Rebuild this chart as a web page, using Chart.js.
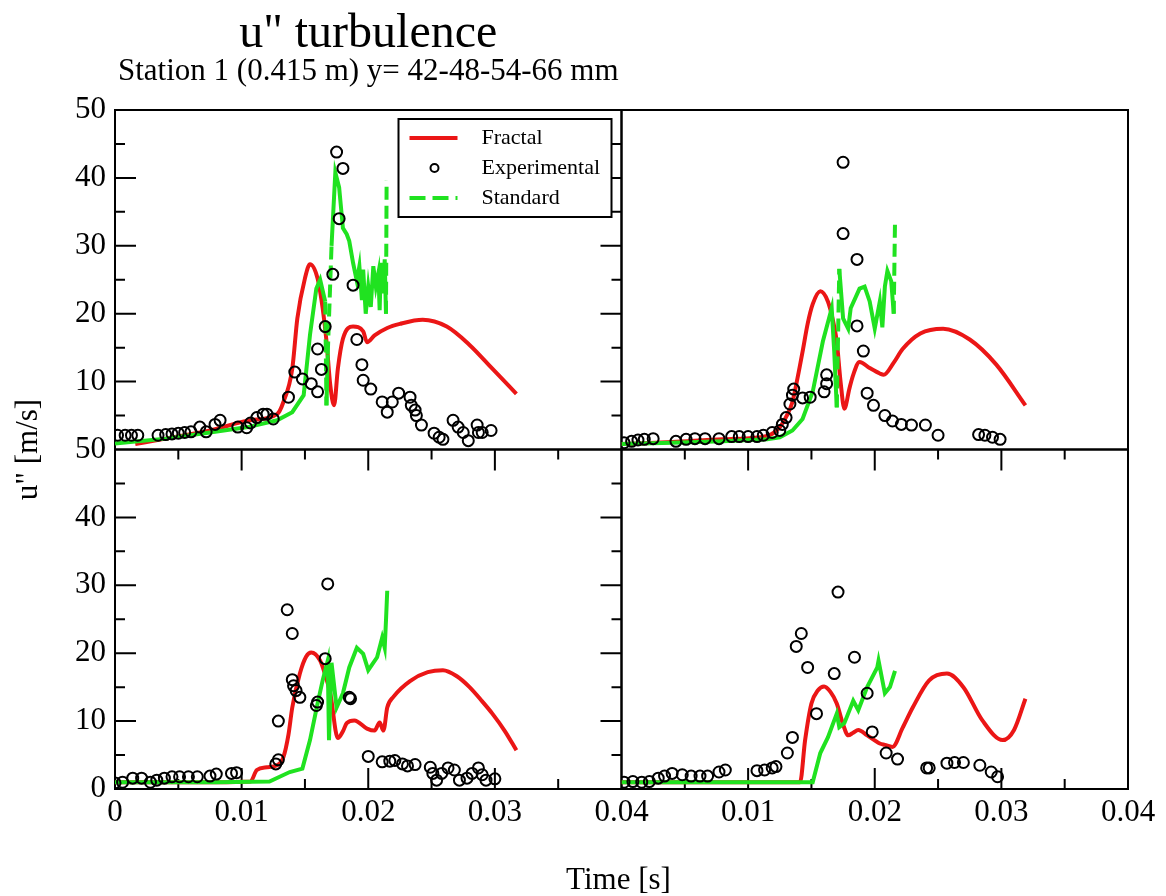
<!DOCTYPE html>
<html>
<head>
<meta charset="utf-8">
<script src="https://cdn.jsdelivr.net/npm/chart.js@4.4.0/dist/chart.umd.min.js"></script>
<style>
html,body{margin:0;padding:0;background:#fff;}
canvas{display:block;}
</style>
</head>
<body>
<canvas id="c" width="1166" height="896"></canvas>
<script>
// ---------- tick values ----------
const xTickVals = [0, 0.01, 0.02, 0.03, 0.04];
const yTickVals = [0, 10, 20, 30, 40, 50];
const xMinorVals = [0.005, 0.015, 0.025, 0.035];
const yMinorVals = [5, 15, 25, 35, 45];

// ---------- top-left panel (y = 42 mm) ----------
const tlFrac = [[0.0016,0.8],[0.004,1.6],[0.0075,2.8],[0.0107,4.3],[0.0128,5.2],[0.0133,7],[0.014,11.9],[0.0144,19.3],[0.015,25.2],[0.0154,27.3],[0.016,25.2],[0.0164,20.8],[0.0167,16],[0.017,9.5],[0.0173,6.5],[0.0176,11.9],[0.018,16.3],[0.0188,18.1],[0.0196,17.4],[0.0199,15.8],[0.0205,16.8],[0.0215,17.9],[0.0225,18.5],[0.0243,19.1],[0.0262,18.1],[0.028,15.4],[0.0298,11.9],[0.0317,8.2]];
const tlStd = [[0,0.9],[0.004,1.6],[0.0075,2.5],[0.0105,3.3],[0.0128,4.3],[0.014,5.5],[0.0149,8],[0.0154,16.9],[0.0159,23.7],[0.0162,25],[0.0166,21.8],[0.0167,6.5],[0.0168,14],[0.0171,30],[0.0174,40.8],[0.0177,38.6],[0.018,32.6],[0.0183,31.7],[0.0185,30.7],[0.0188,27.5],[0.0191,24.8],[0.0193,27],[0.0195,22],[0.0196,26.5],[0.0198,20],[0.02,24],[0.0202,21],[0.0204,27],[0.0206,24],[0.0208,26],[0.0209,20.5],[0.021,27.5],[0.0212,23],[0.0213,28],[0.0214,20],[0.02145,39.6]];
const tlExp = [[0.0002,2.1],[0.0008,2.1],[0.0013,2.1],[0.0018,2.1],[0.0034,2.1],[0.004,2.2],[0.0045,2.3],[0.005,2.4],[0.0055,2.5],[0.006,2.6],[0.0067,3.3],[0.0072,2.6],[0.0079,3.7],[0.0083,4.3],[0.0097,3.3],[0.0104,3.2],[0.0107,3.9],[0.0112,4.7],[0.0117,5.2],[0.012,5.2],[0.0125,4.5],[0.0137,7.7],[0.0142,11.4],[0.0148,10.4],[0.0155,9.7],[0.016,8.5],[0.016,14.8],[0.0163,11.8],[0.0166,18.1],[0.0172,25.8],[0.0175,43.8],[0.0177,34],[0.018,41.4],[0.0188,24.2],[0.0191,16.2],[0.0195,12.5],[0.0196,10.2],[0.0202,8.9],[0.0211,7.0],[0.0215,5.5],[0.0219,7.0],[0.0224,8.3],[0.0233,7.7],[0.0234,6.5],[0.0237,5.8],[0.0238,5.0],[0.0242,3.6],[0.0252,2.4],[0.0256,1.8],[0.0259,1.5],[0.0267,4.3],[0.0271,3.3],[0.0275,2.5],[0.0279,1.3],[0.0286,3.6],[0.0287,2.5],[0.029,2.5],[0.0297,2.8]];

// ---------- top-right panel (y = 48 mm) ----------
const trFrac = [[0,0.8],[0.004,1.1],[0.008,1.5],[0.0115,2],[0.0125,3.3],[0.013,4.8],[0.0135,7],[0.0139,10.5],[0.0143,14.4],[0.0147,18.5],[0.0151,21.4],[0.0157,23.3],[0.0163,21.8],[0.0167,19],[0.017,15.9],[0.0173,10],[0.0176,6],[0.018,9],[0.0183,11],[0.0188,12.9],[0.0196,12],[0.0204,11.2],[0.0207,11],[0.0215,12.8],[0.0222,14.8],[0.0236,17.1],[0.0254,17.8],[0.0275,16.2],[0.0296,12.5],[0.0319,6.5]];
const trStd = [[0,0.8],[0.004,1],[0.008,1.2],[0.0115,1.5],[0.0125,1.8],[0.0135,2.8],[0.0143,4.5],[0.0151,8.5],[0.0159,15.9],[0.0166,20.8],[0.0168,14.4],[0.017,6.2],[0.0172,26.6],[0.0175,19.3],[0.0179,17.8],[0.0181,20.8],[0.0188,23.7],[0.0192,24],[0.0196,21.8],[0.02,17.8],[0.0204,21.8],[0.0206,18],[0.0208,24],[0.021,26.3],[0.0213,24.8],[0.0215,20],[0.0216,33.7]];
const trExp = [[0.0002,1.0],[0.0008,1.2],[0.0013,1.4],[0.0018,1.5],[0.0025,1.6],[0.0043,1.2],[0.0051,1.5],[0.0058,1.6],[0.0066,1.6],[0.0077,1.6],[0.0087,1.9],[0.0093,1.9],[0.01,1.9],[0.0107,1.9],[0.0112,2.1],[0.0119,2.5],[0.0125,2.8],[0.0127,3.7],[0.013,4.7],[0.0133,6.7],[0.0135,8.0],[0.0136,8.9],[0.0143,7.6],[0.0149,7.7],[0.016,8.5],[0.0162,9.7],[0.0162,11],[0.0175,31.8],[0.0175,42.3],[0.0186,28],[0.0186,18.2],[0.0191,14.5],[0.0194,8.3],[0.0199,6.5],[0.0208,5.0],[0.0214,4.2],[0.0221,3.7],[0.0229,3.6],[0.024,3.6],[0.025,2.1],[0.0282,2.2],[0.0287,2.1],[0.0293,1.8],[0.0299,1.5]];

// ---------- bottom-left panel (y = 54 mm) ----------
const blFrac = [[0,1],[0.004,1],[0.008,1],[0.0107,1.1],[0.0112,2.8],[0.012,3.2],[0.0128,3.5],[0.0133,4.7],[0.0137,8],[0.014,12],[0.0146,17],[0.0151,19.5],[0.0155,20.1],[0.0162,18.9],[0.0166,16.8],[0.017,14.1],[0.0176,7.5],[0.018,8.5],[0.0183,9.7],[0.0189,10.1],[0.0199,8.9],[0.0205,8.6],[0.0209,9.8],[0.0212,8.6],[0.0215,12],[0.022,13.6],[0.0233,15.9],[0.0247,17.2],[0.0259,17.5],[0.027,16.6],[0.028,15],[0.029,12.9],[0.0298,11.1],[0.0308,8.5],[0.0317,5.7]];
const blStd = [[0,1],[0.004,1],[0.008,1],[0.0122,1.1],[0.0138,2.5],[0.0148,3.0],[0.0154,7.2],[0.016,12.6],[0.0164,16],[0.0168,18.9],[0.0169,7.2],[0.0171,18.6],[0.0175,12],[0.018,14.1],[0.0185,17.9],[0.0191,20.8],[0.0196,19.9],[0.02,17.5],[0.0207,19.4],[0.0211,22.3],[0.0213,20.8],[0.0214,24.8],[0.0215,29.2]];
const blExp = [[0,0.9],[0.0006,1.0],[0.0014,1.6],[0.0021,1.6],[0.0028,1.0],[0.0033,1.3],[0.0039,1.6],[0.0045,1.8],[0.0051,1.8],[0.0058,1.8],[0.0065,1.8],[0.0075,1.9],[0.008,2.2],[0.0092,2.3],[0.0096,2.4],[0.0127,3.7],[0.0129,4.3],[0.0129,10],[0.0136,26.4],[0.014,22.9],[0.014,16.1],[0.0141,15.2],[0.0143,14.5],[0.0146,13.5],[0.0159,12.3],[0.016,12.8],[0.0166,19.2],[0.0168,30.2],[0.0185,13.5],[0.0186,13.3],[0.02,4.8],[0.0211,4.0],[0.0217,4.1],[0.0221,4.2],[0.0227,3.7],[0.0231,3.4],[0.0237,3.6],[0.0249,3.2],[0.0251,2.3],[0.0254,1.3],[0.0258,2.3],[0.0263,3.1],[0.0268,2.8],[0.0272,1.3],[0.0278,1.6],[0.0282,2.3],[0.0287,3.1],[0.029,2.1],[0.0293,1.3],[0.03,1.5]];

// ---------- bottom-right panel (y = 66 mm) ----------
const brFrac = [[0,1],[0.004,1],[0.008,1],[0.012,1],[0.0141,1],[0.0145,7.2],[0.015,12.6],[0.0155,14.5],[0.016,15.1],[0.0165,14.3],[0.017,12.6],[0.0175,9.5],[0.0179,7.9],[0.0183,8.3],[0.0187,8.7],[0.0194,7.9],[0.0204,6.7],[0.0208,6.5],[0.0214,6.2],[0.0222,9],[0.023,12],[0.0243,16],[0.0257,17],[0.027,15],[0.0285,10.1],[0.0301,7.2],[0.031,8.7],[0.0319,13.3]];
const brStd = [[0,1],[0.004,1],[0.008,1],[0.012,1],[0.0151,1],[0.0157,5.3],[0.0163,7.6],[0.017,11.1],[0.0172,9.1],[0.0176,9.7],[0.0183,13],[0.0187,11.6],[0.0194,15],[0.0202,17.9],[0.0203,18.9],[0.0208,14.1],[0.0212,15],[0.0216,17.4]];
const brExp = [[0.0002,1.0],[0.0009,1.1],[0.0016,1.0],[0.0022,1.1],[0.0029,1.6],[0.0034,1.9],[0.004,2.3],[0.0048,2.1],[0.0055,1.9],[0.0062,1.9],[0.0068,1.9],[0.0077,2.5],[0.0082,2.8],[0.0107,2.7],[0.0113,2.8],[0.0119,3.1],[0.0122,3.3],[0.0131,5.3],[0.0135,7.6],[0.0138,21],[0.0142,22.9],[0.0147,17.9],[0.0154,11.1],[0.0168,17],[0.0171,29],[0.0184,19.4],[0.0194,14.1],[0.0198,8.4],[0.0209,5.3],[0.0218,4.4],[0.0241,3.1],[0.0243,3.1],[0.0257,3.8],[0.0263,3.9],[0.027,3.9],[0.0283,3.5],[0.0292,2.5],[0.0297,1.8]];

// ---------- styling ----------
const RED = 'rgb(235,22,22)';
const GREEN = 'rgb(32,226,32)';
const FONT = "'Liberation Serif', 'Times New Roman', serif";

const pts = arr => arr.map(p => ({x: p[0], y: p[1]}));

function fracDS(data, xa, ya) {
  return {label: 'Fractal', data: pts(data), xAxisID: xa, yAxisID: ya, showLine: true,
    borderColor: RED, borderWidth: 4, pointRadius: 0, pointHoverRadius: 0,
    cubicInterpolationMode: 'monotone', fill: false, order: 3};
}
function stdDS(data, xa, ya) {
  return {label: 'Standard', data: pts(data), xAxisID: xa, yAxisID: ya, showLine: true,
    borderColor: GREEN, borderWidth: 4, pointRadius: 0, pointHoverRadius: 0,
    tension: 0, fill: false, order: 2,
    segment: {borderDash: ctx => (Math.abs(ctx.p1.y - ctx.p0.y) > 80 && Math.abs(ctx.p1.x - ctx.p0.x) < 6) ? [13, 6] : undefined}};
}
function expDS(data, xa, ya) {
  return {label: 'Experimental', data: pts(data), xAxisID: xa, yAxisID: ya, showLine: false,
    borderColor: '#000', backgroundColor: 'rgba(0,0,0,0)', borderWidth: 2,
    pointRadius: 5.5, pointHoverRadius: 5.5, pointStyle: 'circle', order: 1};
}

const datasets = [
  fracDS(tlFrac,'xL','yT'), stdDS(tlStd,'xL','yT'), expDS(tlExp,'xL','yT'),
  fracDS(trFrac,'xR','yT'), stdDS(trStd,'xR','yT'), expDS(trExp,'xR','yT'),
  fracDS(blFrac,'xL','yB'), stdDS(blStd,'xL','yB'), expDS(blExp,'xL','yB'),
  fracDS(brFrac,'xR','yB'), stdDS(brStd,'xR','yB'), expDS(brExp,'xR','yB')
];

function xScale(hideZero) {
  return {
    type: 'linear', position: 'bottom', stack: 'x', stackWeight: 1,
    min: 0, max: 0.04,
    grid: {display: false, drawTicks: false}, border: {display: false},
    afterBuildTicks: s => { s.ticks = xTickVals.map(v => ({value: v})); },
    afterFit: s => { s.height = 107; },
    ticks: {
      autoSkip: false, maxRotation: 0, padding: 5, color: '#000',
      font: {family: FONT, size: 31},
      callback: v => (v === 0 ? (hideZero ? '' : '0') : Number(v).toFixed(2))
    }
  };
}
function yScale(hideZero) {
  return {
    type: 'linear', position: 'left', stack: 'y', stackWeight: 1,
    min: 0, max: 50,
    grid: {display: false, drawTicks: false}, border: {display: false},
    afterBuildTicks: s => { s.ticks = yTickVals.map(v => ({value: v})); },
    afterFit: s => { s.width = 115; },
    ticks: {
      autoSkip: false, padding: 9, color: '#000',
      font: {family: FONT, size: 31},
      callback: v => (v === 0 && hideZero ? '' : String(v))
    }
  };
}

const panels = [
  {x: 'xL', y: 'yT', yt: true,  xt: false},
  {x: 'xR', y: 'yT', yt: false, xt: false},
  {x: 'xL', y: 'yB', yt: true,  xt: true},
  {x: 'xR', y: 'yB', yt: false, xt: true}
];

const decor = {
  id: 'decor',
  beforeDatasetsDraw(chart) {
    const ctx = chart.ctx, S = chart.scales;
    ctx.save();
    ctx.strokeStyle = '#000';
    ctx.lineWidth = 2;
    const MAJ = 21, MIN = 10;
    panels.forEach(p => {
      const xs = S[p.x], ys = S[p.y];
      const l = xs.left, r = xs.right, t = ys.top, b = ys.bottom;
      ctx.strokeRect(l, t, r - l, b - t);
      ctx.beginPath();
      if (p.yt) {
        yTickVals.slice(1, -1).forEach(v => { const y = ys.getPixelForValue(v);
          ctx.moveTo(l, y); ctx.lineTo(l + MAJ, y); ctx.moveTo(r, y); ctx.lineTo(r - MAJ, y); });
        yMinorVals.forEach(v => { const y = ys.getPixelForValue(v);
          ctx.moveTo(l, y); ctx.lineTo(l + MIN, y); ctx.moveTo(r, y); ctx.lineTo(r - MIN, y); });
      }
      if (p.xt) {
        xTickVals.slice(1, -1).forEach(v => { const x = xs.getPixelForValue(v);
          ctx.moveTo(x, t); ctx.lineTo(x, t + MAJ); ctx.moveTo(x, b); ctx.lineTo(x, b - MAJ); });
        xMinorVals.forEach(v => { const x = xs.getPixelForValue(v);
          ctx.moveTo(x, t); ctx.lineTo(x, t + MIN); ctx.moveTo(x, b); ctx.lineTo(x, b - MIN); });
      }
      ctx.stroke();
    });
    ctx.restore();
  },
  afterDatasetsDraw(chart) {
    // legend inside the top-left panel
    const ctx = chart.ctx, S = chart.scales;
    const r = S.xL.right - 10, t = S.yT.top + 9;
    const w = 213, h = 98, l = r - w;
    ctx.save();
    ctx.fillStyle = '#fff';
    ctx.fillRect(l, t, w, h);
    ctx.strokeStyle = '#000'; ctx.lineWidth = 2;
    ctx.strokeRect(l, t, w, h);
    const rows = [t + 19, t + 49, t + 79];
    ctx.lineWidth = 4; ctx.strokeStyle = RED;
    ctx.beginPath(); ctx.moveTo(l + 11, rows[0]); ctx.lineTo(l + 59, rows[0]); ctx.stroke();
    ctx.lineWidth = 2; ctx.strokeStyle = '#000';
    ctx.beginPath(); ctx.arc(l + 36, rows[1], 4, 0, Math.PI * 2); ctx.stroke();
    ctx.lineWidth = 4; ctx.strokeStyle = GREEN; ctx.setLineDash([16, 7]);
    ctx.beginPath(); ctx.moveTo(l + 11, rows[2]); ctx.lineTo(l + 59, rows[2]); ctx.stroke();
    ctx.setLineDash([]);
    ctx.fillStyle = '#000';
    ctx.font = '22px ' + FONT;
    ctx.textBaseline = 'middle'; ctx.textAlign = 'left';
    ctx.fillText('Fractal', l + 83, rows[0]);
    ctx.fillText('Experimental', l + 83, rows[1]);
    ctx.fillText('Standard', l + 83, rows[2]);
    ctx.restore();
  },
  afterDraw(chart) {
    const ctx = chart.ctx, S = chart.scales;
    ctx.save();
    ctx.fillStyle = '#000';
    ctx.textBaseline = 'alphabetic';
    ctx.textAlign = 'center';
    const cx = (S.xL.left + S.xL.right) / 2;
    ctx.font = '48px ' + FONT;
    ctx.fillText('u" turbulence', cx, 47);
    ctx.font = '31px ' + FONT;
    ctx.fillText('Station 1 (0.415 m) y= 42-48-54-66 mm', cx, 80);
    ctx.fillText('Time [s]', S.xL.right - 3, 889);
    ctx.translate(37, (S.yT.top + S.yB.bottom) / 2);
    ctx.rotate(-Math.PI / 2);
    ctx.fillText('u" [m/s]', 0, 0);
    ctx.restore();
  }
};

Chart.defaults.font.family = FONT;
new Chart(document.getElementById('c'), {
  type: 'scatter',
  data: {datasets},
  options: {
    responsive: false,
    animation: false,
    devicePixelRatio: 1,
    layout: {padding: {top: 110, right: 38, left: 0, bottom: 0}},
    plugins: {legend: {display: false}, tooltip: {enabled: false}, title: {display: false}},
    // stacked axes are placed bottom-up, so the lower panel's axis is listed first
    scales: {xL: xScale(false), xR: xScale(true), yB: yScale(false), yT: yScale(true)}
  },
  plugins: [decor]
});
</script>
</body>
</html>
